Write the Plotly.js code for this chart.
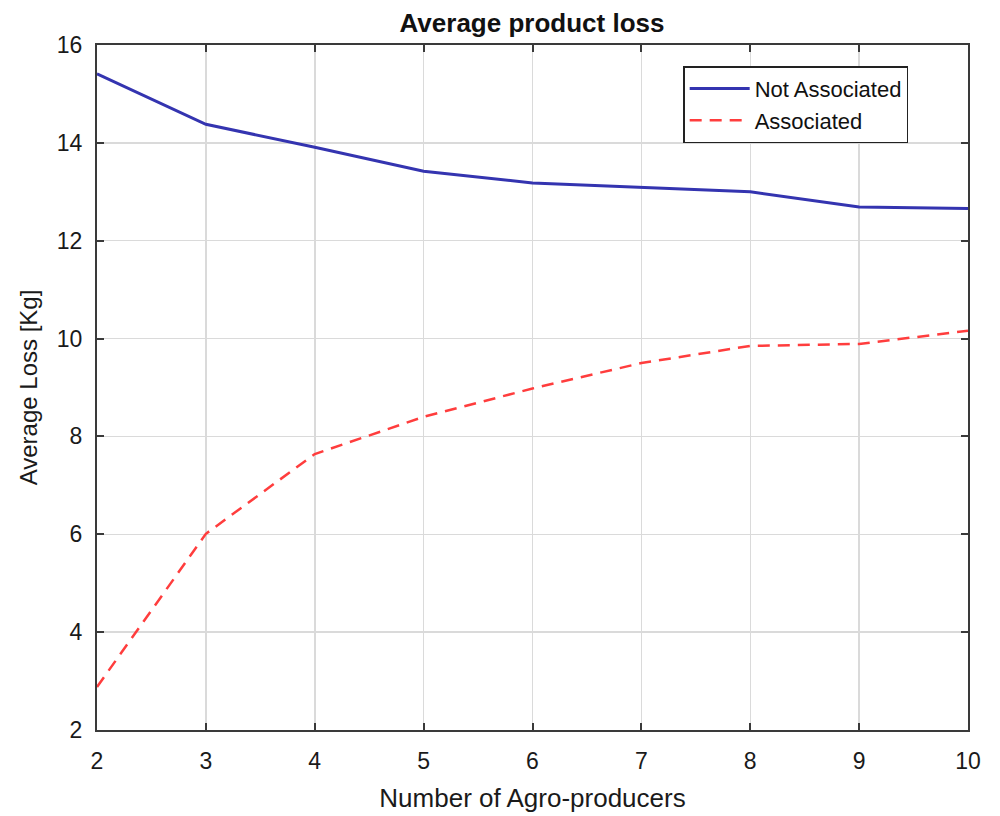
<!DOCTYPE html>
<html>
<head>
<meta charset="utf-8">
<script src="https://cdn.plot.ly/plotly-3.0.1.min.js"></script>
<style>html,body{margin:0;padding:0;background:#fff;}#chart{width:1000px;height:816px;}</style>
</head>
<body>
<div id="chart"></div>
<script>
const producers = [2, 3, 4, 5, 6, 7, 8, 9, 10];
const notAssociated = [15.41, 14.38, 13.91, 13.42, 13.18, 13.09, 13.0, 12.69, 12.66];
const associated = [2.88, 6.01, 7.64, 8.40, 8.98, 9.50, 9.85, 9.89, 10.16];
const seriesNames = ['Not Associated', 'Associated'];
const chartTitle = 'Average product loss';
const xTitle = 'Number of Agro-producers';
const yTitle = 'Average Loss [Kg]';

const font = 'Liberation Sans, Arial, sans-serif';
const traces = [
  {x: producers, y: notAssociated, name: seriesNames[0], type: 'scatter', mode: 'lines',
   line: {color: '#3434b0', width: 3}},
  {x: producers, y: associated, name: seriesNames[1], type: 'scatter', mode: 'lines',
   line: {color: '#ff3d3d', width: 2.5, dash: '12px,8px'}}
];
const axisCommon = {
  showline: true, linecolor: '#3a3a3a', linewidth: 2, mirror: 'ticks',
  ticks: 'inside', ticklen: 7, tickwidth: 2, tickcolor: '#3a3a3a',
  showgrid: true, gridcolor: '#dadada', gridwidth: 1.5, zeroline: false,
  tickfont: {family: font, size: 23, color: '#1a1a1a'}
};
const layout = {
  width: 1000, height: 816,
  margin: {l: 97, r: 32, t: 45, b: 86},
  paper_bgcolor: '#fff', plot_bgcolor: '#fff',
  title: {text: '<b>' + chartTitle + '</b>', x: 0.532, xanchor: 'center', y: 0.972, yanchor: 'middle',
          font: {family: font, size: 26, color: '#111'}},
  xaxis: Object.assign({}, axisCommon, {range: [2, 10], dtick: 1, ticklabelstandoff: 9,
    title: {text: xTitle, font: {family: font, size: 26, color: '#1a1a1a'}, standoff: 16}}),
  yaxis: Object.assign({}, axisCommon, {range: [2, 16], dtick: 2, ticklabelstandoff: 8,
    title: {text: yTitle, font: {family: font, size: 24, color: '#1a1a1a'}, standoff: 12}}),
  showlegend: true,
  legend: {x: 0.673, y: 0.969, xanchor: 'left', yanchor: 'top',
    bgcolor: '#fff', bordercolor: '#222', borderwidth: 1.5,
    font: {family: font, size: 22, color: '#111'}, tracegroupgap: 0, itemwidth: 60}
};
Plotly.newPlot('chart', traces, layout, {displayModeBar: false, staticPlot: true});
</script>
</body>
</html>
